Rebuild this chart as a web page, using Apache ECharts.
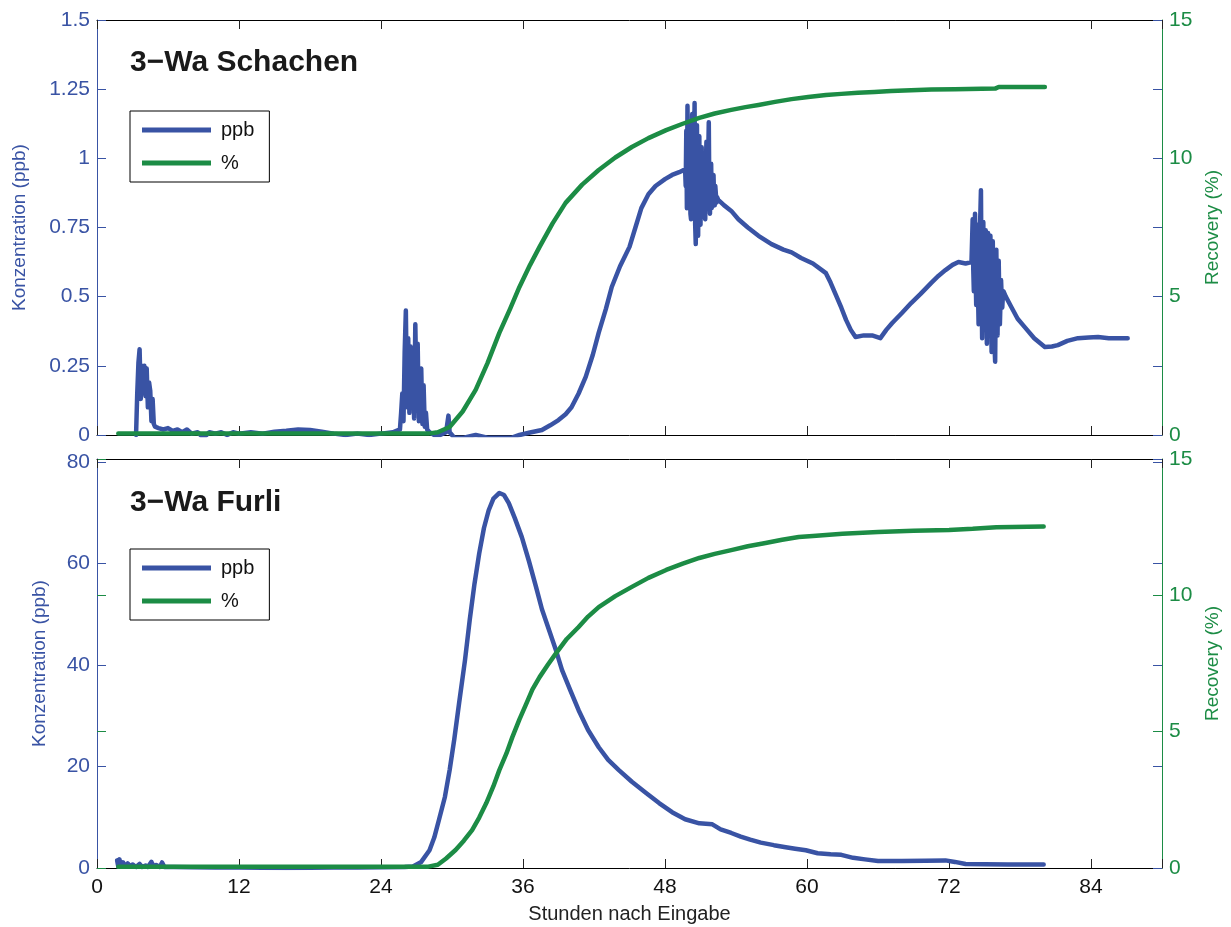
<!DOCTYPE html>
<html><head><meta charset="utf-8">
<script src="https://cdn.jsdelivr.net/npm/echarts@6/dist/echarts.min.js"></script>
<style>html,body{margin:0;padding:0;background:#fff}#c{width:1231px;height:927px}</style>
</head><body><div id="c"></div>
<script>
// ---- Top panel: 3-Wa Schachen ----
const schHours = [3.3,3.4,3.5,3.6,3.7,3.8,3.9,4.0,4.1,4.2,4.3,4.4,4.5,4.6,4.7,4.8,4.9,5.2,5.6,6.0,6.4,6.8,7.2,7.6,8.0,8.5,9.0,9.5,10.0,10.5,11,11.5,12,13,14,15,16,17,18,19,20,21,22,23,24,25,25.6,
  25.7,25.8,25.9,26.0,26.1,26.2,26.3,26.4,26.5,26.6,26.7,26.8,26.9,27.0,27.1,27.2,27.3,27.4,27.5,27.6,27.7,27.8,27.9,28.1,28.5,29.0,29.5,29.7,29.8,30.2,31,32,33,34,35,35.7,
  36.5,37.6,38.3,39.0,39.6,40.1,40.7,41.3,41.9,42.4,43.0,43.5,44.2,45.0,45.5,46.0,46.6,47.2,48.0,48.6,49.2,49.7,
  49.75,49.8,49.85,49.9,49.95,50.0,50.05,50.1,50.15,50.2,50.25,50.3,50.35,50.4,50.45,50.5,50.55,50.6,50.65,50.7,50.75,50.8,50.85,50.9,50.95,51.0,51.05,51.1,51.15,51.2,51.25,51.3,51.35,51.4,51.45,51.5,51.55,51.6,51.65,51.7,51.75,51.8,51.85,51.9,51.95,52.0,52.05,52.1,52.15,52.2,52.25,52.3,52.35,52.4,
  52.5,53.0,53.6,54.2,55.0,55.9,57.0,58.0,58.7,59.5,60.5,61.6,62.0,62.4,62.9,63.3,63.7,64.1,64.8,65.5,66.2,66.7,67.2,68.0,68.8,69.6,70.5,71.1,71.7,72.3,72.8,73.4,73.9,
  74.0,74.05,74.1,74.15,74.2,74.25,74.3,74.35,74.4,74.45,74.5,74.55,74.6,74.65,74.7,74.75,74.8,74.85,74.9,74.95,75.0,75.05,75.1,75.15,75.2,75.25,75.3,75.35,75.4,75.45,75.5,75.55,75.6,75.65,75.7,75.75,75.8,75.85,75.9,75.95,76.0,76.05,76.1,76.15,76.2,76.25,76.3,76.35,76.4,76.45,76.5,76.55,76.6,
  76.8,77.3,77.8,78.4,79.2,80.1,80.7,81.2,82.0,82.9,83.8,84.6,85.5,86.3,87.1];
const schPpb = [0.00,0.15,0.26,0.31,0.13,0.25,0.19,0.25,0.14,0.24,0.10,0.19,0.16,0.05,0.13,0.04,0.03,0.025,0.02,0.025,0.015,0.02,0.01,0.02,0.005,0.01,-0.01,0.01,0.005,0.01,0.0,0.01,0.005,0.01,0.005,0.012,0.015,0.02,0.018,0.012,0.005,0.0,0.005,0.0,0.005,0.01,0.02,
  0.08,0.15,0.05,0.30,0.45,0.10,0.35,0.08,0.32,0.12,0.28,0.06,0.40,0.15,0.33,0.05,0.20,0.24,0.04,0.18,0.03,0.08,0.02,0.01,0.0,0.0,0.01,0.07,0.01,-0.01,-0.01,0.0,-0.01,-0.01,-0.01,0.0,
  0.008,0.018,0.035,0.054,0.075,0.10,0.15,0.21,0.29,0.37,0.455,0.535,0.61,0.68,0.75,0.82,0.87,0.90,0.925,0.94,0.95,0.96,
  0.90,1.10,0.82,1.19,0.88,0.85,1.02,1.05,0.80,0.78,1.00,1.16,0.84,0.80,0.98,1.20,0.76,0.69,0.95,1.12,0.80,0.72,1.00,1.08,0.78,0.76,0.96,1.04,0.82,0.80,0.97,1.00,0.79,0.78,0.95,1.06,0.84,0.82,1.00,1.13,0.86,0.80,0.93,0.98,0.82,0.84,0.92,0.94,0.85,0.83,0.90,0.90,0.84,0.86,
  0.85,0.83,0.81,0.78,0.75,0.72,0.69,0.67,0.66,0.64,0.62,0.585,0.55,0.51,0.46,0.416,0.38,0.354,0.36,0.36,0.35,0.38,0.405,0.44,0.477,0.51,0.55,0.575,0.596,0.615,0.625,0.62,0.625,
  0.78,0.60,0.52,0.70,0.80,0.58,0.47,0.66,0.76,0.52,0.40,0.60,0.72,0.80,0.885,0.55,0.35,0.62,0.77,0.55,0.42,0.60,0.74,0.50,0.33,0.58,0.73,0.52,0.40,0.62,0.72,0.48,0.30,0.55,0.70,0.50,0.38,0.32,0.265,0.50,0.67,0.48,0.36,0.52,0.63,0.50,0.40,0.48,0.56,0.50,0.46,0.50,0.52,
  0.50,0.46,0.42,0.39,0.35,0.318,0.32,0.325,0.34,0.35,0.352,0.354,0.35,0.35,0.35];
const schPctHours = [1.8,28.0,28.8,29.8,30.9,32.0,33.0,34.0,34.9,35.7,36.6,37.4,38.5,39.6,41.0,42.4,43.8,45.2,46.6,48.1,49.5,50.9,52.2,53.6,54.8,55.9,57.3,58.7,60.1,61.6,62.9,64.3,65.7,67.1,68.8,70.5,72.5,75.9,76.2,80.1];
const schPct = [0.05,0.05,0.1,0.29,0.85,1.63,2.6,3.69,4.55,5.35,6.15,6.8,7.65,8.39,9.05,9.58,10.03,10.41,10.73,11.02,11.25,11.46,11.62,11.75,11.85,11.93,12.04,12.14,12.22,12.29,12.33,12.37,12.40,12.43,12.46,12.49,12.50,12.52,12.58,12.58];

// ---- Bottom panel: 3-Wa Furli ----
const furHours = [1.7,1.8,1.9,2.0,2.2,2.4,2.6,2.8,3.0,3.3,3.6,3.8,4.1,4.3,4.6,4.8,5.0,5.3,5.5,5.7,6.5,8,10,12,14,16,18,20,22,24,26,26.7,27.4,28.1,28.5,28.9,29.4,29.8,30.2,30.6,31.1,31.5,31.9,32.3,32.7,33.1,33.5,34.0,34.4,34.8,35.3,35.9,36.5,37.1,37.6,38.2,38.8,39.3,40.0,40.7,41.5,42.4,43.2,44.1,45.2,46.4,47.5,48.6,49.7,50.9,52.0,52.7,53.6,54.4,55.2,56.1,57.2,58.2,59.0,59.9,60.9,62.0,62.9,63.9,64.9,66.0,68.0,70.0,71.7,72.5,73.4,75,77,80.0];
const furPpb = [1.5,0.3,1.7,0.4,1.1,0.3,0.9,0.3,0.7,0.2,0.8,0.2,0.5,0.2,1.2,0.3,0.6,0.2,1.1,0.2,0.2,0.15,0.1,0.1,0.05,0.0,0.05,0.1,0.1,0.15,0.2,0.3,1.2,3.5,6,9.5,14,19.3,25.5,32.5,41,48.9,56,62,67,70.5,72.8,73.9,73.5,71.9,69,65.2,60.5,55.4,51,46.9,42.8,39,35,31.1,27.2,23.8,21.3,19.3,17,14.8,12.8,11.0,9.6,8.8,8.6,7.6,6.9,6.2,5.6,5.0,4.5,4.1,3.8,3.5,2.9,2.7,2.6,2.0,1.7,1.4,1.4,1.45,1.5,1.2,0.8,0.75,0.7,0.7];
const furPctHours = [1.8,28.0,28.8,29.5,30.3,31.0,31.7,32.3,32.9,33.5,34.0,34.6,35.1,35.7,36.3,36.8,37.4,38.1,38.8,39.7,40.7,41.5,42.4,43.8,45.2,46.6,48.1,49.5,50.9,52.2,53.6,55.0,56.5,57.9,59.3,60.5,63,66,69,72,74,76,80];
const furPct = [0.05,0.05,0.12,0.35,0.66,1.0,1.39,1.85,2.38,3.0,3.59,4.2,4.80,5.45,6.05,6.55,7.0,7.45,7.88,8.4,8.84,9.22,9.57,9.97,10.31,10.64,10.93,11.16,11.37,11.52,11.66,11.80,11.92,12.04,12.14,12.18,12.26,12.32,12.37,12.40,12.44,12.5,12.52];

const titles = ['3\u2212Wa Schachen','3\u2212Wa Furli'];

const BLUE = '#3953a4', GREEN = '#1c8c45', FONT = 'Liberation Sans, Arial, sans-serif';
const pair = (xs, ys) => xs.map((x, i) => [x, ys[i]]);
const fmtMult = (m) => (v) => (Math.abs(v / m - Math.round(v / m)) < 1e-6 ? String(+v.toFixed(2)) : '');

const grids = [
  {left: 97, top: 20, width: 1065, height: 415},
  {left: 97, top: 459, width: 1065, height: 409}
];
function xAx(g, pos, labels) {
  return {type: 'value', gridIndex: g, position: pos, min: 0, max: 90, interval: 12,
    axisLine: {show: true, onZero: false, lineStyle: {color: '#000', width: 1}},
    axisTick: {show: true, inside: true, length: 9, lineStyle: {color: '#222'}},
    axisLabel: {show: labels, color: '#111', fontSize: 21, fontFamily: FONT, margin: 9, formatter: fmtMult(12)},
    splitLine: {show: false},
    name: labels ? 'Stunden nach Eingabe' : '', nameLocation: 'middle', nameGap: 36,
    nameTextStyle: {color: '#222', fontSize: 20, fontFamily: FONT}};
}
function yAx(g, pos, min, max, interval, color, labels, name, nameGap, line) {
  return {type: 'value', gridIndex: g, position: pos, min, max, interval,
    axisLine: {show: line, onZero: false, lineStyle: {color, width: 1}},
    axisTick: {show: true, inside: true, length: 9, lineStyle: {color}},
    axisLabel: {show: labels, color, fontSize: 21, fontFamily: FONT, margin: 7, formatter: fmtMult(interval)},
    splitLine: {show: false},
    name: name, nameLocation: 'middle', nameGap: nameGap, nameRotate: 90,
    nameTextStyle: {color, fontSize: 19, fontFamily: FONT}};
}
function lineSeries(name, xi, yi, data, color) {
  return {name, type: 'line', xAxisIndex: xi, yAxisIndex: yi, data, showSymbol: false,
    lineStyle: {color, width: 4.5, join: 'round', cap: 'round'}, itemStyle: {color}, clip: true};
}

const option = {
  animation: false,
  backgroundColor: '#fff',
  title: [
    {text: titles[0], left: 130, top: 48, padding: 0, textStyle: {fontSize: 30, fontWeight: 'bold', color: '#1a1a1a', fontFamily: FONT}},
    {text: titles[1], left: 130, top: 488, padding: 0, textStyle: {fontSize: 30, fontWeight: 'bold', color: '#1a1a1a', fontFamily: FONT}}
  ],
  legend: [0, 1].map(i => ({
    left: 130, top: i === 0 ? 111 : 549, orient: 'vertical', icon: 'rect',
    itemWidth: 69, itemHeight: 5, itemGap: 13,
    padding: [9, 15, 9, 12], borderColor: '#000', borderWidth: 1, backgroundColor: '#fff',
    selectedMode: false,
    textStyle: {fontSize: 20, color: '#111', fontFamily: FONT, padding: [0, 0, 0, 5], lineHeight: 20},
    data: ['ppb', '%']
  })),
  grid: grids,
  xAxis: [xAx(0, 'bottom', false), xAx(0, 'top', false), xAx(1, 'bottom', true), xAx(1, 'top', false)],
  yAxis: [
    yAx(0, 'left', 0, 1.5, 0.25, BLUE, true, 'Konzentration (ppb)', 68, true),
    yAx(0, 'right', 0, 15, 5, GREEN, true, 'Recovery (%)', 38, true),
    yAx(0, 'right', 0, 1.5, 0.25, BLUE, false, '', 0, false),
    yAx(1, 'left', 0, 80.6, 20, BLUE, true, 'Konzentration (ppb)', 48, true),
    yAx(1, 'right', 0, 15, 5, GREEN, true, 'Recovery (%)', 38, true),
    yAx(1, 'right', 0, 80.6, 20, BLUE, false, '', 0, false),
    yAx(1, 'left', 0, 15, 5, GREEN, false, '', 0, false)
  ],
  series: [
    lineSeries('ppb', 0, 0, pair(schHours, schPpb), BLUE),
    lineSeries('%', 0, 1, pair(schPctHours, schPct), GREEN),
    lineSeries('ppb', 2, 3, pair(furHours, furPpb), BLUE),
    lineSeries('%', 2, 4, pair(furPctHours, furPct), GREEN)
  ]
};
const chart = echarts.init(document.getElementById('c'), null, {renderer: 'canvas'});
chart.setOption(option);
</script></body></html>
